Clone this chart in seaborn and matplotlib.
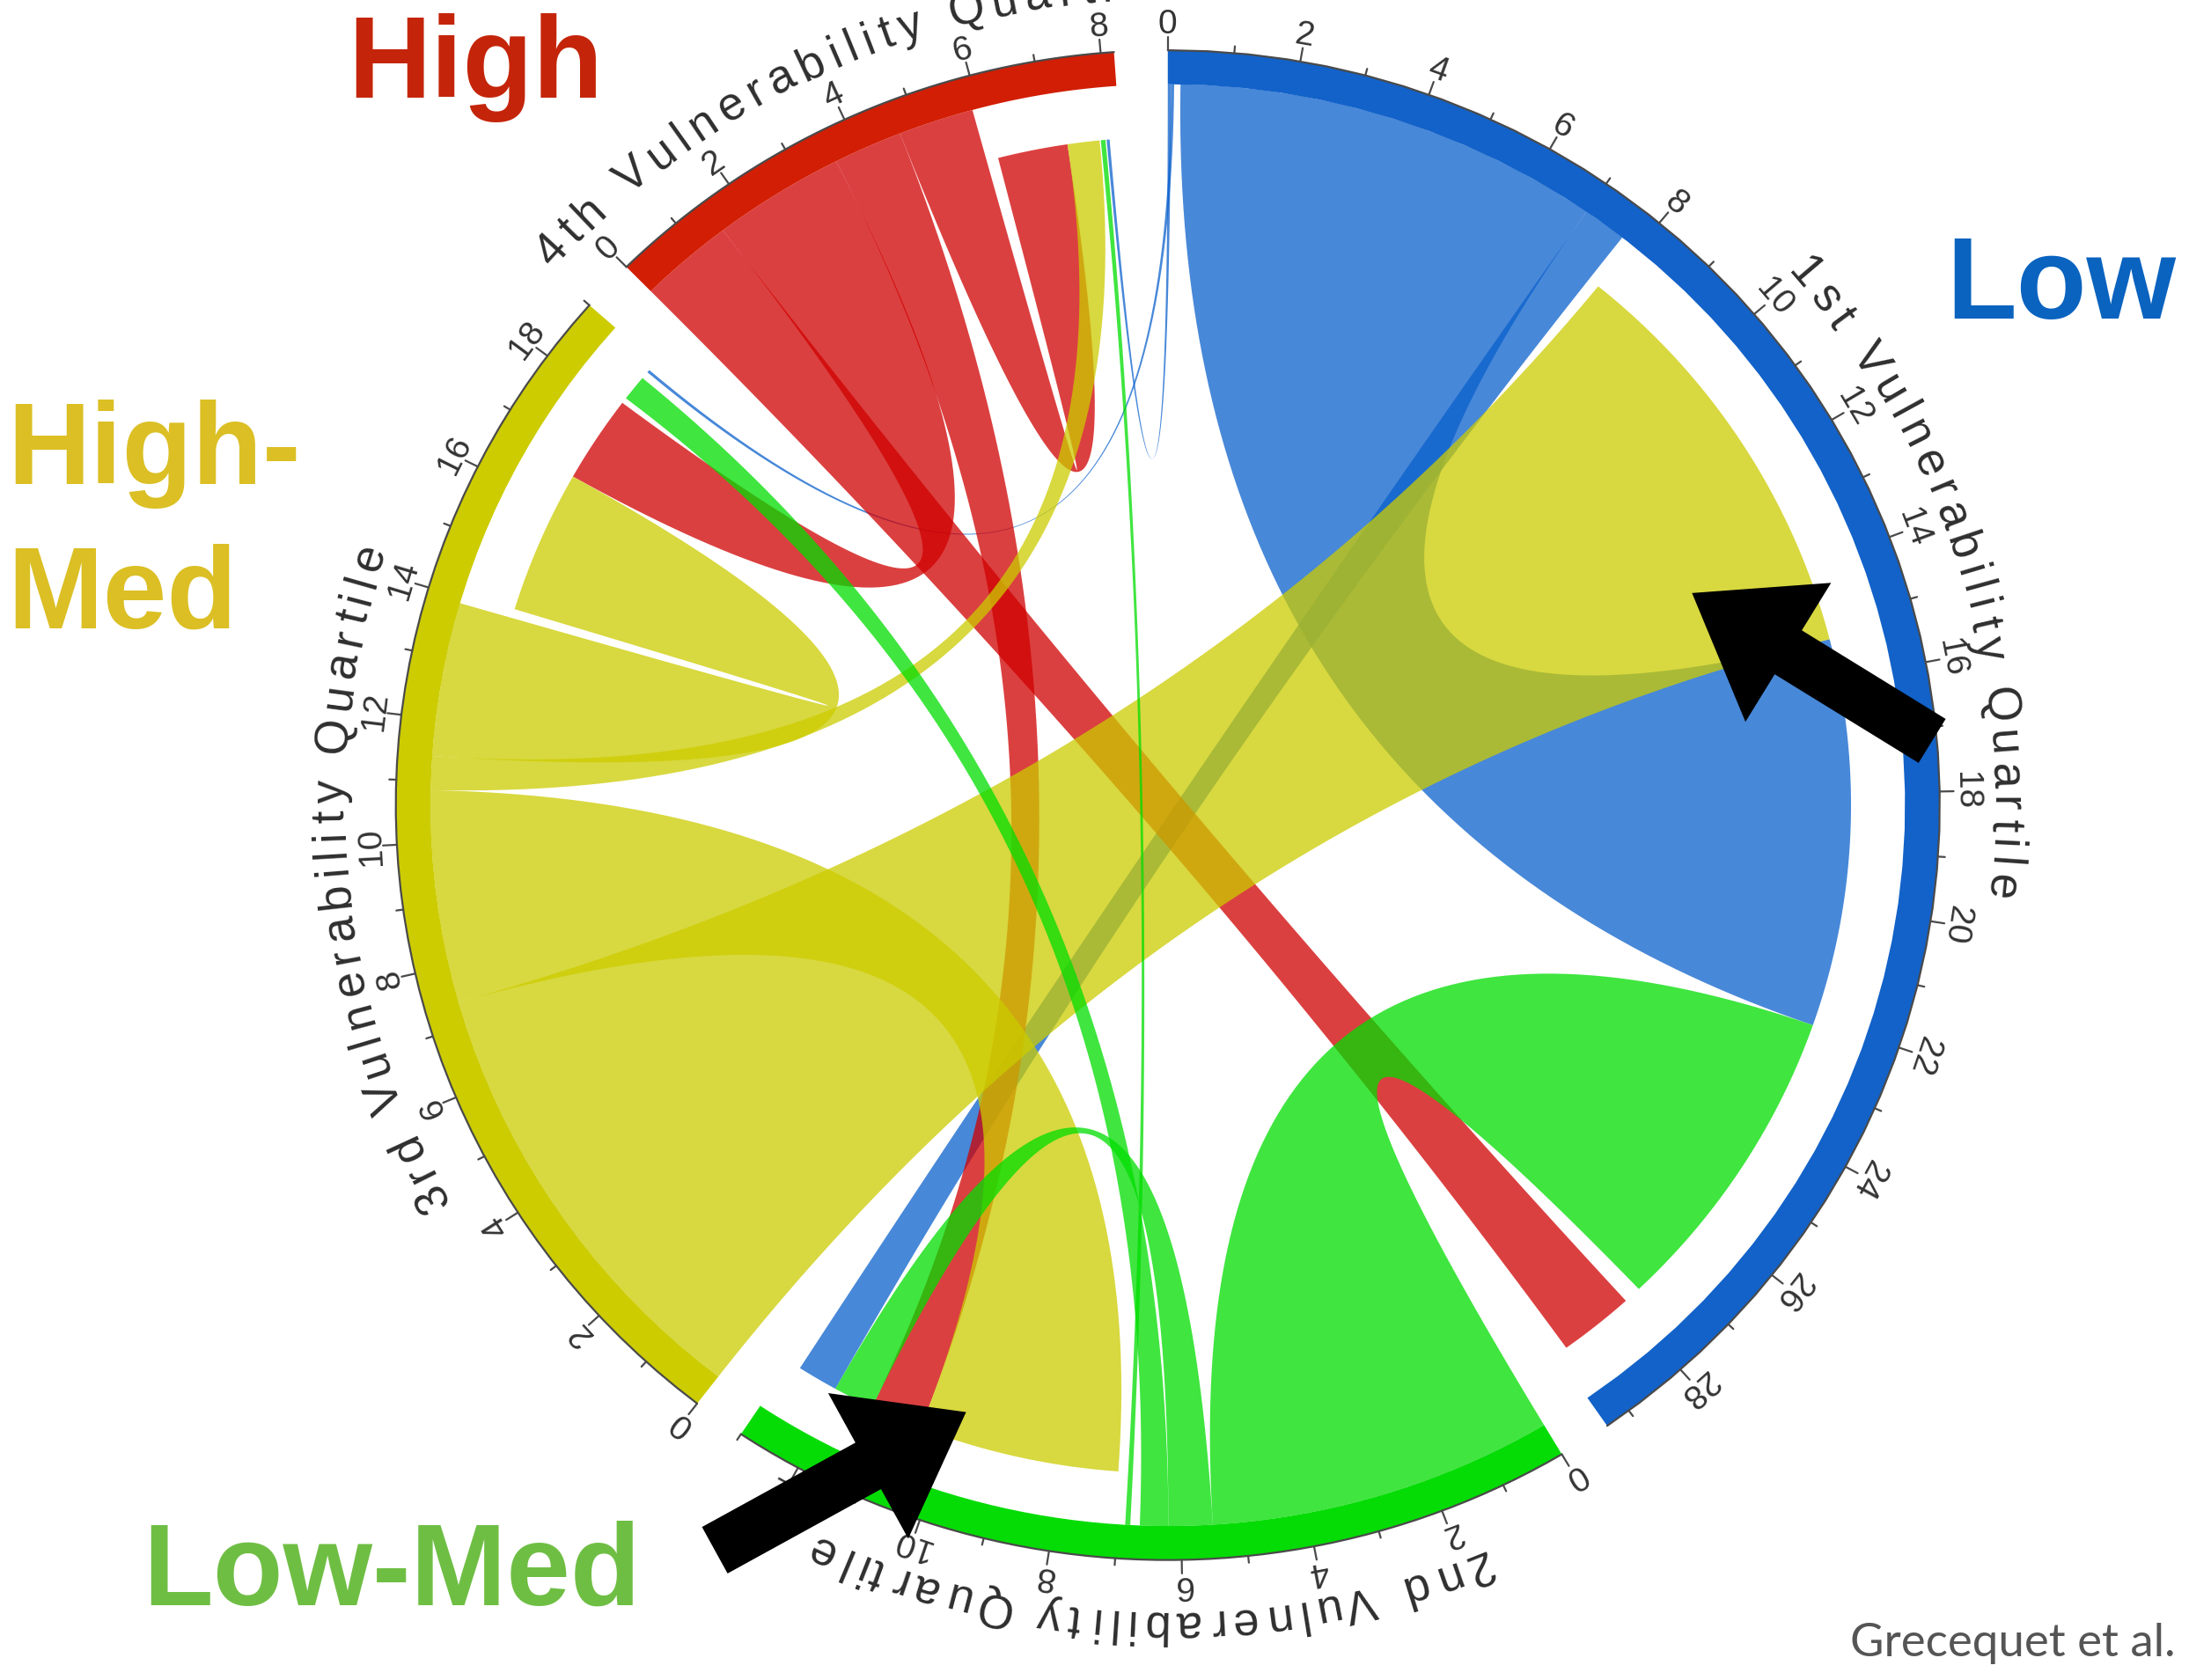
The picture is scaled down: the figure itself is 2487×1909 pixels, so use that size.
import numpy as np
import pandas as pd
import matplotlib
matplotlib.use("Agg")
import matplotlib.pyplot as plt
import seaborn as sns
from matplotlib.patches import Polygon, FancyArrow
from matplotlib.font_manager import FontProperties, findfont, get_font

# sectors of the chord diagram (clockwise from the top)
sectors = ["1st Vulnerability Quartile", "2nd Vulnerability Quartile",
           "3rd Vulnerability Quartile", "4th Vulnerability Quartile"]
sector_len = [29.4, 13.0, 19.0, 8.2]
ring_colors = ["#1262c9", "#05dc05", "#cccc00", "#d21e04"]
link_colors = ["#0a60cc", "#00dd00", "#cccc00", "#d00000"]

# links: source sector / range -> target sector / range (0=1st, 1=2nd, 2=3rd, 3=4th)
link_src = [0, 0, 0, 0, 3, 3, 3, 3, 2, 2, 2, 2, 1, 1, 1, 1]
link_src_from = [0.0, 0.05, 0.2, 7.0, 0.0, 1.5, 3.6, 4.7, 0.0, 7.4, 10.85, 11.4, 0.0, 5.5, 6.2, 6.8]
link_src_to = [0.05, 0.1, 7.0, 7.7, 1.5, 3.6, 4.7, 5.9, 7.4, 10.85, 11.4, 13.9, 5.5, 6.2, 6.65, 6.88]
link_dst = [3, 2, 0, 1, 0, 2, 1, 3, 0, 1, 3, 2, 0, 1, 2, 3]
link_dst_from = [7.97, 18.78, 15.3, 12.1, 27.9, 16.57, 10.5, 6.1, 7.9, 7.05, 7.3, 14.06, 22.1, 11.4, 18.2, 7.87]
link_dst_to = [8.02, 18.83, 22.1, 12.8, 29.2, 18.1, 11.4, 7.3, 15.3, 10.5, 7.85, 16.57, 27.6, 12.1, 18.65, 7.95]

links = pd.DataFrame({"src": link_src, "s0": link_src_from, "s1": link_src_to,
                      "dst": link_dst, "d0": link_dst_from, "d1": link_dst_to})

sns.set_theme(style="white")
plt.rcParams["font.family"] = ["Liberation Sans", "DejaVu Sans"]

fig = plt.figure(figsize=(24.87, 19.09), dpi=100)
ax = fig.add_axes([0, 0, 1, 1])
ax.set_xlim(0, 1568)
ax.set_ylim(1204, 0)
ax.axis("off")

CX, CY, RX, RY = 836.5, 577.0, 553.0, 541.0
GAP = 4.0
unit = (360 - GAP * len(sector_len)) / sum(sector_len)
starts = []
a = 90.0
for L in sector_len:
    starts.append(a)
    a -= L * unit + GAP


def theta(s, u):
    return starts[s] - u * unit


def xy(th, r):
    t = np.radians(th)
    return CX + RX * r * np.cos(t), CY - RY * r * np.sin(t)


def arc(th1, th2, r, n=50):
    ts = np.linspace(th1, th2, n)
    return np.column_stack(xy(ts, r))


def bez(p0, p2, n=80):
    t = np.linspace(0, 1, n)[:, None]
    c = np.array([CX, CY])
    return (1 - t) ** 2 * p0 + 2 * t * (1 - t) * c + t ** 2 * p2


R_OUT, R_IN = 0.955, 0.885

# chords
pal = sns.color_palette(link_colors)
for _, l in links.iterrows():
    s, d = int(l.src), int(l.dst)
    A = arc(theta(s, l.s0), theta(s, l.s1), R_OUT)
    B = arc(theta(d, l.d0), theta(d, l.d1), R_IN)
    pts = np.vstack([A, bez(A[-1], B[0]), B, bez(B[-1], A[0])])
    ax.add_patch(Polygon(pts, closed=True, facecolor=pal[s], alpha=0.75,
                         lw=0, zorder=2))

# ring, axis, ticks and labels
for s, L in enumerate(sector_len):
    outer = arc(theta(s, 0), theta(s, L), 1.0)
    inner = arc(theta(s, L), theta(s, 0), R_OUT)
    ax.add_patch(Polygon(np.vstack([outer, inner]), closed=True,
                         facecolor=ring_colors[s], lw=0, zorder=3))
    ax.plot(outer[:, 0], outer[:, 1], color="#4a4a4a", lw=1.6, zorder=4)
    for v in range(0, int(L) + 1):
        th = theta(s, v)
        r2 = 1.018 if v % 2 == 0 else 1.009
        p1, p2 = xy(th, 1.0), xy(th, r2)
        ax.plot([p1[0], p2[0]], [p1[1], p2[1]], color="#4a4a4a", lw=1.6, zorder=4)
        if v % 2 == 0:
            px, py = xy(th, 1.022)
            ax.text(px, py, str(v), rotation=th - 90, rotation_mode="anchor",
                    ha="center", va="baseline", fontsize=28, color="#333333",
                    zorder=5)

# sector titles bent along the circle
title_size = 38
fp = FontProperties(family="Liberation Sans", size=title_size)
font = get_font(findfont(fp))
font.set_size(title_size, 72)
px_per_pt = 100 / 72 / 1.586
r_title = 1.068
r_mean = r_title * (RX + RY) / 2
span = 48.0
for s, name in enumerate(sectors):
    adv = np.array([font.load_char(ord(c)).linearHoriAdvance / 65536 for c in name]) * px_per_pt
    total = np.radians(span) * r_mean
    extra = (total - adv.sum()) / (len(name) - 1)
    mid = theta(s, sector_len[s] / 2)
    th0 = mid + span / 2
    pos = 0.0
    for c, w in zip(name, adv):
        cpos = pos + w / 2
        th = th0 - np.degrees(cpos / r_mean)
        pos += w + extra
        if c == " ":
            continue
        px, py = xy(th, r_title)
        ax.text(px, py, c, rotation=th - 90, rotation_mode="anchor",
                ha="center", va="baseline", fontsize=title_size, color="#2e2e2e",
                zorder=5)

# annotations
big = dict(fontsize=94, fontweight="bold", ha="left", va="baseline", zorder=8)
ax.text(249, 70, "High", color="#c4250a", **big)
ax.text(1394, 228, "Low", color="#0a63bf", **big)
ax.text(5, 347, "High-", color="#dbbf24", **big)
ax.text(5, 450, "Med", color="#dbbf24", **big)
ax.text(102, 1150, "Low-Med", color="#6fbe44", **big)
ax.text(1558, 1187, "Grecequet et al.", ha="right", va="baseline", fontsize=38,
        color="#555555", family=["Lato", "DejaVu Sans"], zorder=8)

ax.add_patch(FancyArrow(1384, 531, -172, -106, width=37, head_width=117,
                        head_length=81, length_includes_head=True,
                        color="black", lw=0, zorder=9))
ax.add_patch(FancyArrow(512, 1111, 180, -99, width=38, head_width=119,
                        head_length=80, length_includes_head=True,
                        color="black", lw=0, zorder=9))

fig.savefig("out.png", dpi=100, facecolor="white")
